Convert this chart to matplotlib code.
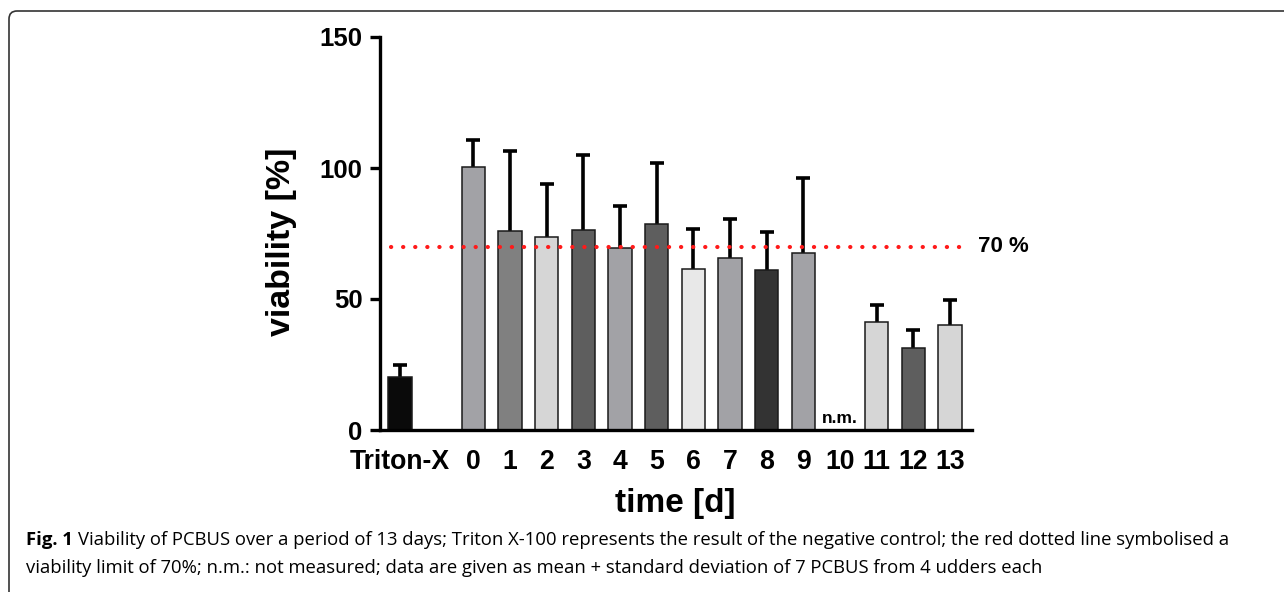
import numpy as np
import matplotlib
matplotlib.use("Agg")
import matplotlib.pyplot as plt
from matplotlib.patches import PathPatch
from matplotlib.path import Path
from matplotlib.transforms import IdentityTransform

# data (mean + SD, viability in %)
labels = ["Triton-X", "0", "1", "2", "3", "4", "5", "6", "7", "8", "9", "10", "11", "12", "13"]
means = [20.4, 100.4, 75.9, 73.6, 76.4, 69.3, 78.7, 61.4, 65.8, 60.9, 67.5, np.nan, 41.3, 31.4, 39.9]
upper = [24.8, 110.5, 106.6, 94.0, 105.1, 85.6, 101.9, 76.7, 80.7, 75.7, 96.2, np.nan, 47.8, 38.2, 49.7]
colors = ["#0a0a0a", "#a2a2a6", "#808080", "#d6d6d6", "#5e5e5e", "#a2a2a6", "#5e5e5e",
          "#e8e8e8", "#a2a2a6", "#333333", "#a2a2a6", "#ffffff", "#d6d6d6", "#5e5e5e", "#d6d6d6"]
limit = 70
positions = [0] + [d + 2 for d in range(14)]

plt.rcParams['font.family'] = ['Liberation Sans', 'DejaVu Sans']

fig = plt.figure(figsize=(12.84, 5.92), dpi=100)

# frame: left side and top with a rounded corner (pixel coords)
frame_path = Path([(9, -5), (9, 573), (9, 581), (17, 581), (1300, 581)],
                  [Path.MOVETO, Path.LINETO, Path.CURVE3, Path.CURVE3, Path.LINETO])
fig.patches.append(PathPatch(frame_path, transform=IdentityTransform(), fill=False,
                             edgecolor="#333333", linewidth=1.2))

ax = fig.add_axes([380 / 1284, 1 - 430 / 592, 592 / 1284, 393 / 592])

means_arr = np.array(means)
upper_arr = np.array(upper)
valid = ~np.isnan(means_arr)
pos = np.array(positions)

ax.bar(pos[valid], means_arr[valid], width=0.63, color=np.array(colors)[valid],
       edgecolor="#1a1a1a", linewidth=1.1, zorder=2)
# upward-only error bars (mean + SD)
ax.vlines(pos[valid], means_arr[valid], upper_arr[valid], color="black", linewidth=2.6, zorder=1)
ax.plot(pos[valid], upper_arr[valid], linestyle="none", marker="_", markersize=9.4,
        markeredgewidth=2.6, color="black", zorder=1)

# n.m. for day 10
ax.text(positions[11], 1.5, "n.m.", ha="center", va="bottom", fontsize=12.5, fontweight="bold")

# 70 % limit line
ax.plot([-0.25, 15.3], [limit, limit], color="#ff1a1a", linewidth=3.0,
        linestyle=(0, (0.05, 2.85)), dash_capstyle="round", zorder=3, clip_on=False)
ax.text(15.75, limit, "70 %", ha="left", va="center", fontsize=16, fontweight="bold")

ax.set_xlim(-0.545, 15.6)
ax.set_ylim(0, 150)
ax.set_yticks([0, 50, 100, 150])
ax.set_xticks(positions)
ax.set_xticklabels(labels)

for s in ["top", "right"]:
    ax.spines[s].set_visible(False)
for s in ["left", "bottom"]:
    ax.spines[s].set_linewidth(2.4)

ax.tick_params(axis="y", direction="out", length=7.5, width=2.4, pad=5, labelsize=18.5)
ax.tick_params(axis="x", length=0, pad=14, labelsize=19.2)
for lab in ax.get_xticklabels() + ax.get_yticklabels():
    lab.set_fontweight("bold")

ax.set_ylabel("viability [%]", fontsize=24.5, fontweight="bold")
ax.yaxis.set_label_coords(-0.140, 0.48)
ax.set_xlabel("time [d]", fontsize=24, fontweight="bold")
ax.xaxis.set_label_coords(0.498, -0.148)

# caption
cap_font = ['Open Sans', 'DejaVu Sans']
cap_size = 13.3
t1 = fig.text(26 / 1284, 1 - 540 / 592, "Fig. 1", fontsize=cap_size, fontweight="bold",
              family=cap_font, va="center", ha="left")
ax.annotate("Viability of PCBUS over a period of 13 days; Triton X-100 represents the result of the negative control; "
            "the red dotted line symbolised a",
            xy=(1, 0.5), xycoords=t1, xytext=(4, 0), textcoords="offset points",
            va="center", ha="left", fontsize=cap_size, family=cap_font, annotation_clip=False)
fig.text(26 / 1284, 1 - 568 / 592,
         "viability limit of 70%; n.m.: not measured; data are given as mean + standard deviation of 7 PCBUS from 4 udders each",
         fontsize=cap_size, family=cap_font, va="center", ha="left")

fig.savefig("out.png", dpi=100)
